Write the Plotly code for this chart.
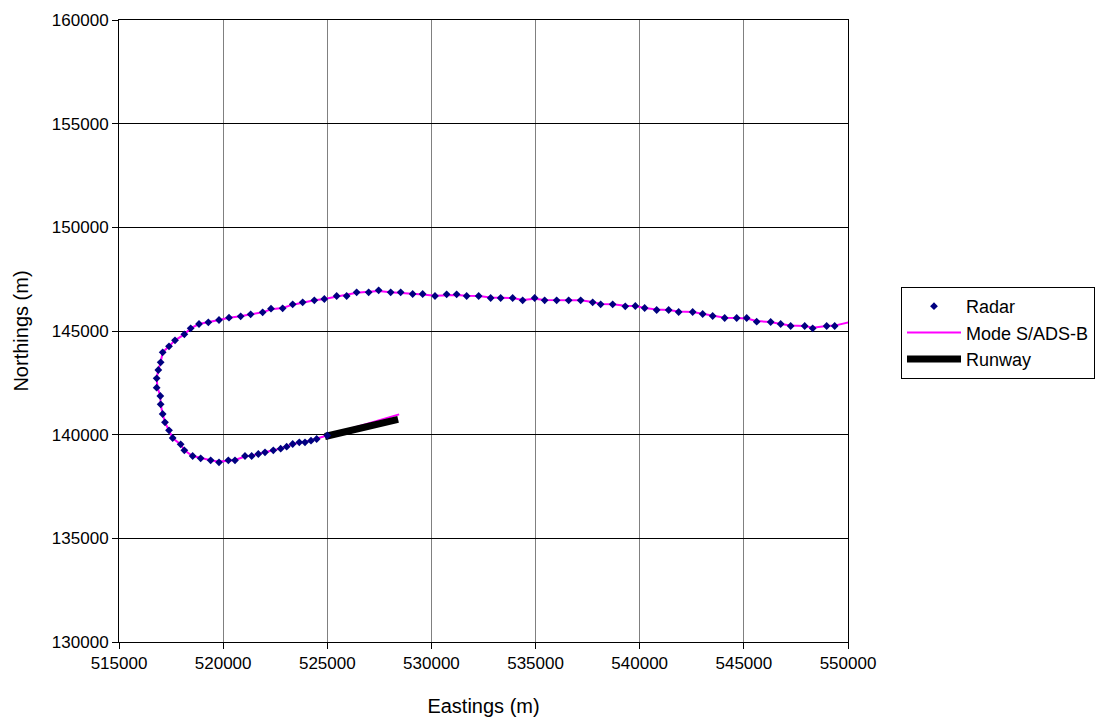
import plotly.graph_objects as go

# Radar plots (Eastings, Northings in metres)
radar_e = [525000, 524491, 524218, 523930, 523657, 523339, 523050, 522762, 522409, 522010,
           521689, 521370, 521049, 520569, 520249, 519801, 519401, 518921, 518537, 518137,
           517961, 517577, 517401, 517208, 517097, 517000, 516984, 516808, 516808, 516888,
           517000, 517097, 517401, 517689, 518137, 518441, 518841, 519289, 519801, 520281,
           520841, 521321, 521897, 522298, 522857, 523339, 523818, 524378, 524858, 525450,
           525930, 526410, 526986, 527466, 528043, 528523, 529099, 529579, 530171, 530731,
           531211, 531691, 532268, 532844, 533324, 533900, 534380, 534956, 535436, 536012,
           536588, 537165, 537741, 538125, 538701, 539307, 539789, 540237, 540814, 541390,
           541870, 542543, 543023, 543503, 544080, 544656, 545136, 545616, 546288, 546768,
           547248, 547921, 548305, 548976, 549361]
radar_n = [139960, 139791, 139710, 139630, 139630, 139550, 139420, 139324, 139244, 139148,
           139067, 138971, 138971, 138762, 138762, 138665, 138762, 138858, 138971, 139244,
           139533, 139839, 140209, 140594, 140996, 141462, 141865, 142266, 142716, 143118,
           143488, 143971, 144260, 144550, 144839, 145129, 145337, 145417, 145530, 145643,
           145707, 145804, 145900, 146077, 146093, 146286, 146382, 146479, 146543, 146688,
           146688, 146865, 146865, 146961, 146865, 146865, 146784, 146784, 146688, 146768,
           146768, 146688, 146688, 146591, 146591, 146591, 146479, 146591, 146479, 146479,
           146479, 146479, 146382, 146286, 146286, 146190, 146205, 146109, 146012, 146012,
           145916, 145916, 145819, 145723, 145627, 145627, 145627, 145449, 145434, 145337,
           145241, 145241, 145129, 145241, 145241]

# Mode S / ADS-B track
modes_e = [528450, 525000, 524491, 524218, 523930, 523657, 523339, 523050, 522762, 522409,
           522010, 521689, 521370, 521049, 520569, 520249, 519801, 519401, 518921, 518537,
           518137, 517961, 517577, 517401, 517208, 517097, 517000, 516984, 516850, 516808,
           516888, 517000, 517097, 517401, 517689, 518137, 518441, 518841, 519289, 519801,
           520281, 520841, 521321, 521897, 522298, 522857, 523339, 523818, 524378, 524858,
           525450, 525930, 526410, 526986, 527466, 528043, 528523, 529099, 529579, 530171,
           530731, 531211, 531691, 532268, 532844, 533324, 533900, 534380, 534956, 535436,
           536012, 536588, 537165, 537741, 538125, 538701, 539307, 539789, 540237, 540814,
           541390, 541870, 542543, 543023, 543503, 544080, 544656, 545136, 545616, 546288,
           546768, 547248, 547921, 548305, 548976, 549361, 550100, 550600]
modes_n = [140980, 139960, 139791, 139710, 139650, 139610, 139550, 139420, 139324, 139244,
           139148, 139067, 138990, 138950, 138780, 138740, 138700, 138762, 138858, 138971,
           139244, 139533, 139839, 140209, 140594, 140996, 141462, 141865, 142266, 142716,
           143118, 143488, 143971, 144260, 144550, 144839, 145129, 145337, 145417, 145530,
           145643, 145707, 145804, 145900, 146050, 146110, 146270, 146382, 146479, 146543,
           146660, 146720, 146840, 146890, 146930, 146865, 146840, 146784, 146760, 146700,
           146740, 146740, 146700, 146688, 146620, 146600, 146591, 146500, 146560, 146500,
           146479, 146479, 146479, 146400, 146300, 146286, 146220, 146205, 146109, 146040,
           146012, 145940, 145916, 145819, 145740, 145640, 145627, 145600, 145480, 145434,
           145337, 145260, 145241, 145160, 145241, 145260, 145434, 145560]

# Runway
runway_e = [524890, 528400]
runway_n = [139910, 140740]

fig = go.Figure()
fig.add_trace(go.Scatter(x=modes_e, y=modes_n, mode="lines", name="Mode S/ADS-B",
                         line=dict(color="#FF00FF", width=2), legendrank=2))
fig.add_trace(go.Scatter(x=runway_e, y=runway_n, mode="lines", name="Runway",
                         line=dict(color="black", width=7), legendrank=3))
fig.add_trace(go.Scatter(x=radar_e, y=radar_n, mode="markers", name="Radar",
                         marker=dict(symbol="diamond", color="#000080", size=6), legendrank=1))

font_family = "Liberation Sans, Arial, sans-serif"
fig.update_layout(
    width=1099, height=712,
    margin=dict(l=111, r=259, t=12, b=78),
    paper_bgcolor="white", plot_bgcolor="white",
    font=dict(family=font_family, color="black", size=17),
    legend=dict(x=1.0727, y=0.5707, xanchor="left", yanchor="top",
                bordercolor="black", borderwidth=1, bgcolor="white",
                itemwidth=54,
                font=dict(size=18, family=font_family)),
    showlegend=True,
)
fig.update_xaxes(range=[515000, 550000], dtick=5000, tick0=515000, tickformat="d",
                 showgrid=True, gridcolor="#808080", gridwidth=1,
                 showline=True, linecolor="black", linewidth=1, mirror=True,
                 ticks="outside", ticklen=6, tickcolor="black",
                 zeroline=False, automargin=False,
                 title=dict(text="Eastings (m)", font=dict(size=20), standoff=26),
                 tickfont=dict(size=17))
fig.update_yaxes(range=[130000, 160000], dtick=5000, tick0=130000, tickformat="d",
                 showgrid=True, gridcolor="black", gridwidth=1,
                 showline=True, linecolor="black", linewidth=1, mirror=True,
                 ticks="outside", ticklen=6, tickcolor="black",
                 zeroline=False, automargin=False,
                 title=dict(text="Northings (m)", font=dict(size=20), standoff=17),
                 tickfont=dict(size=17))

fig.write_html("out.html")
